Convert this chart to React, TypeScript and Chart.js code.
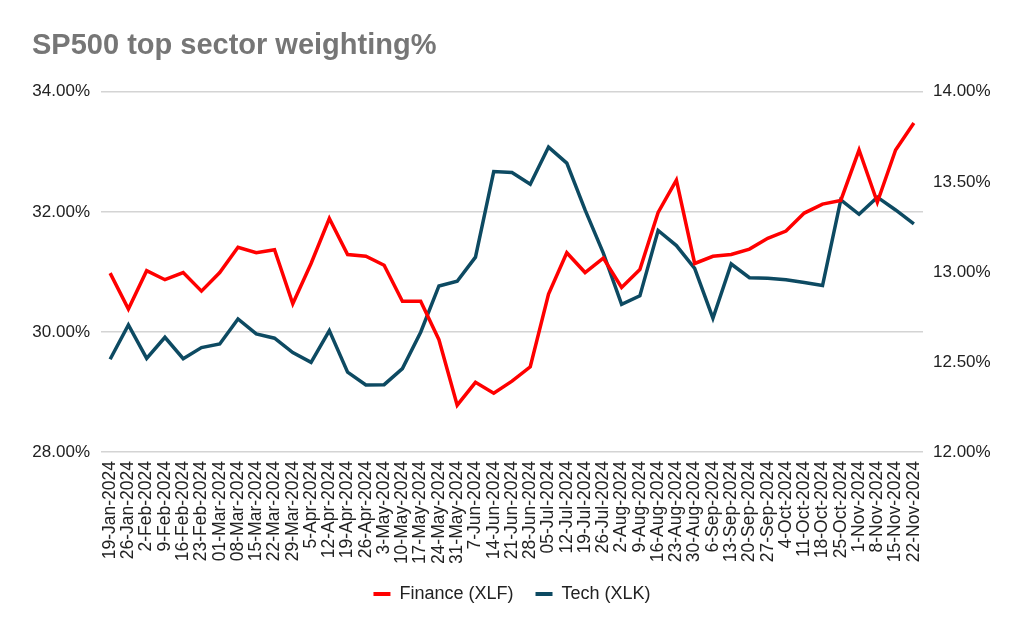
import { useEffect, useRef } from "react";
import { Chart, registerables } from "chart.js";

Chart.register(...registerables);

const chartTitle = "SP500 top sector weighting%";

const dates = [
  "19-Jan-2024", "26-Jan-2024", "2-Feb-2024", "9-Feb-2024", "16-Feb-2024", "23-Feb-2024",
  "01-Mar-2024", "08-Mar-2024", "15-Mar-2024", "22-Mar-2024", "29-Mar-2024", "5-Apr-2024",
  "12-Apr-2024", "19-Apr-2024", "26-Apr-2024", "3-May-2024", "10-May-2024", "17-May-2024",
  "24-May-2024", "31-May-2024", "7-Jun-2024", "14-Jun-2024", "21-Jun-2024", "28-Jun-2024",
  "05-Jul-2024", "12-Jul-2024", "19-Jul-2024", "26-Jul-2024", "2-Aug-2024", "9-Aug-2024",
  "16-Aug-2024", "23-Aug-2024", "30-Aug-2024", "6-Sep-2024", "13-Sep-2024", "20-Sep-2024",
  "27-Sep-2024", "4-Oct-2024", "11-Oct-2024", "18-Oct-2024", "25-Oct-2024", "1-Nov-2024",
  "8-Nov-2024", "15-Nov-2024", "22-Nov-2024",
];

const financeXLF = [
  30.98, 30.38, 31.02, 30.87, 30.99, 30.68, 30.99, 31.41, 31.32, 31.37, 30.47, 31.14,
  31.89, 31.29, 31.26, 31.11, 30.51, 30.51, 29.87, 28.78, 29.16, 28.98, 29.18, 29.42,
  30.63, 31.32, 30.99, 31.23, 30.74, 31.04, 31.99, 32.53, 31.14, 31.26, 31.29, 31.38,
  31.56, 31.68, 31.98, 32.13, 32.19, 33.03, 32.16, 33.03, 33.48,
];

const techXLK = [
  12.515, 12.706, 12.52, 12.637, 12.518, 12.58, 12.6, 12.739, 12.656, 12.632, 12.552, 12.498,
  12.674, 12.443, 12.372, 12.374, 12.463, 12.665, 12.922, 12.948, 13.082, 13.557, 13.552, 13.487,
  13.693, 13.604, 13.344, 13.104, 12.82, 12.867, 13.23, 13.146, 13.02, 12.743, 13.044, 12.968,
  12.965, 12.956, 12.941, 12.924, 13.4, 13.32, 13.415, 13.344, 13.267,
];

const seriesNames = ["Finance (XLF)", "Tech (XLK)"];
const leftAxisRange = [28, 34, 2];
const rightAxisRange = [12, 14, 0.5];

const FONT = "'Liberation Sans', Arial, Helvetica, sans-serif";

export default function App() {
  const canvasRef = useRef<HTMLCanvasElement | null>(null);

  useEffect(() => {
    const canvas = canvasRef.current;
    if (!canvas) return;
    const chart = new Chart(canvas, {
      type: "line",
      data: {
        labels: dates,
        datasets: [
          {
            label: seriesNames[0],
            data: financeXLF,
            borderColor: "#ff0000",
            backgroundColor: "#ff0000",
            borderWidth: 3.5,
            pointRadius: 0,
            tension: 0,
            yAxisID: "yLeft",
          },
          {
            label: seriesNames[1],
            data: techXLK,
            borderColor: "#0d4a62",
            backgroundColor: "#0d4a62",
            borderWidth: 3.5,
            pointRadius: 0,
            tension: 0,
            yAxisID: "yRight",
          },
        ],
      },
      options: {
        responsive: false,
        animation: false,
        layout: { padding: { left: 32, right: 32, top: 0, bottom: 22 } },
        plugins: {
          title: {
            display: true,
            text: chartTitle,
            align: "start",
            color: "#767676",
            font: { family: FONT, size: 29, weight: "bold", lineHeight: 1.2 },
            padding: { top: 29, bottom: 28 },
          },
          legend: {
            display: true,
            position: "bottom",
            labels: {
              color: "#222222",
              font: { family: FONT, size: 18 },
              boxWidth: 17,
              boxHeight: 4,
              padding: 22,
              generateLabels: (c: any) =>
                Chart.defaults.plugins.legend.labels
                  .generateLabels(c)
                  .map((l: any) => ({ ...l, lineWidth: 0, fillStyle: l.strokeStyle })),
            },
          },
          tooltip: { enabled: false },
        },
        scales: {
          x: {
            offset: true,
            grid: { display: false, drawTicks: false },
            border: { display: false },
            ticks: {
              autoSkip: false,
              minRotation: 90,
              maxRotation: 90,
              padding: 9,
              color: "#222222",
              font: { family: FONT, size: 17.5 },
            },
            afterFit: (s: any) => {
              s.height = 111;
            },
          },
          yLeft: {
            type: "linear",
            position: "left",
            min: leftAxisRange[0],
            max: leftAxisRange[1],
            grid: { color: "#d4d4d4", lineWidth: 1.5, drawTicks: false },
            border: { display: false },
            ticks: {
              stepSize: leftAxisRange[2],
              padding: 11,
              color: "#222222",
              font: { family: FONT, size: 17 },
              callback: (v: any) => Number(v).toFixed(2) + "%",
            },
            afterFit: (s: any) => {
              s.width = 69;
            },
          },
          yRight: {
            type: "linear",
            position: "right",
            min: rightAxisRange[0],
            max: rightAxisRange[1],
            grid: { display: false, drawTicks: false },
            border: { display: false },
            ticks: {
              stepSize: rightAxisRange[2],
              padding: 10,
              color: "#222222",
              font: { family: FONT, size: 17 },
              callback: (v: any) => Number(v).toFixed(2) + "%",
            },
            afterFit: (s: any) => {
              s.width = 69;
            },
          },
        },
      },
    } as any);
    return () => chart.destroy();
  }, []);

  return (
    <div style={{ position: "fixed", left: 0, top: 0, width: 1024, height: 635, background: "#ffffff" }}>
      <canvas ref={canvasRef} width={1024} height={635} style={{ width: 1024, height: 635, display: "block" }} />
    </div>
  );
}
